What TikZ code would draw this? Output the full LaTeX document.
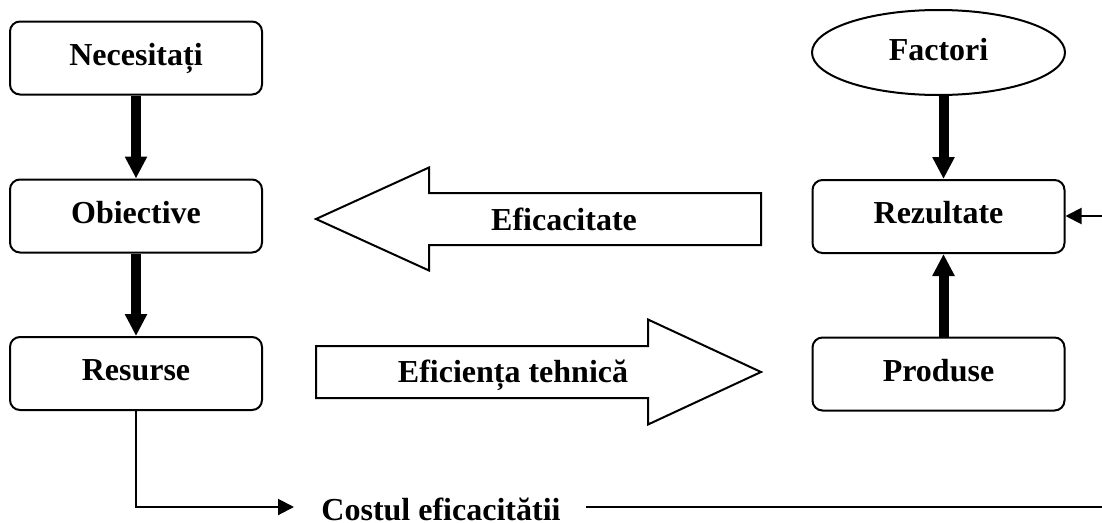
\documentclass[tikz,border=0pt]{standalone}
\usepackage{fontspec}
\setmainfont{Liberation Serif}
\usetikzlibrary{arrows.meta,shapes.geometric}

\begin{document}
\begin{tikzpicture}[x=1pt,y=-1pt,
  every node/.style={font=\fontsize{32}{38}\selectfont\bfseries},
  box/.style={draw, line width=2pt, rounded corners=10pt, minimum width=252pt, minimum height=73pt,
              inner sep=0pt, text height=24pt, text depth=10pt},
  oval/.style={draw, ellipse, line width=2pt, minimum width=253pt, minimum height=85pt,
               inner sep=0pt, text height=24pt, text depth=9pt},
  flow/.style={line width=10pt, -{Triangle[length=22pt,width=21pt]}},
  link/.style={line width=2pt, -{Triangle[length=16pt,width=16pt]}},
  blockarrow/.style={draw, line width=2pt, line join=miter}]

  \useasboundingbox (0,0) rectangle (1102,522);

  % left column
  \node[box] (nec) at (136,58)    {Necesitați};
  \node[box] (obi) at (136,216)   {Obiective};
  \node[box] (res) at (136,373.5) {Resurse};

  % right column
  \node[oval] (fac) at (938.5,52.5) {Factori};
  \node[box]  (rez) at (938.5,216.5) {Rezultate};
  \node[box]  (pro) at (938.5,374)   {Produse};

  % vertical flow arrows
  \draw[flow] (nec.south) -- (obi.north);
  \draw[flow] (obi.south) -- (res.north);
  \draw[flow] ([xshift=5pt]fac.south) -- ([xshift=5pt]rez.north);
  \draw[flow] ([xshift=5pt]pro.north) -- ([xshift=5pt]rez.south);

  % block arrows between the columns
  \draw[blockarrow] (761,193) -- (429,193) -- (429,167.5) -- (316,219)
        -- (429,270.5) -- (429,245) -- (761,245) -- cycle;
  \draw[blockarrow] (316,346) -- (648,346) -- (648,319.5) -- (761,372)
        -- (648,424.5) -- (648,398) -- (316,398) -- cycle;
  \node[anchor=base, inner sep=0pt] (efc) at (564,230) {Eficacitate};
  \node[anchor=base, inner sep=0pt] (eft) at (513,382) {Eficiența tehnică};

  % cost line along the bottom
  \node[anchor=base, inner sep=0pt] (cost) at (441,520) {Costul eficacitătii};
  \coordinate (ca) at (294,507);
  \coordinate (cb) at (586,507);
  \coordinate (ce) at (1102,507);
  \coordinate (re) at (1102,216);
  \draw[link] (res.south) |- (ca);
  \draw[line width=2pt] (cb) -- (ce);
  \draw[link] (re) -- (re -| rez.east);
\end{tikzpicture}
\end{document}
